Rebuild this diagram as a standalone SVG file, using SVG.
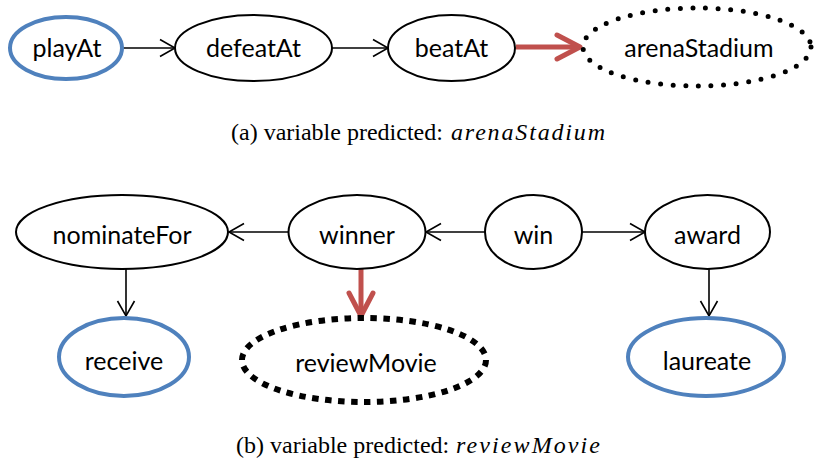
<svg xmlns="http://www.w3.org/2000/svg" width="814" height="466" viewBox="0 0 814 466">
<style>
  .plain { fill: #fff; stroke: #000; stroke-width: 2; }
  .given { fill: #fff; stroke: #4F81BD; stroke-width: 4; }
  .dots { fill: #fff; stroke: #000; stroke-width: 5; stroke-linecap: round; stroke-dasharray: 0 12.6; }
  .dash { fill: #fff; stroke: #000; stroke-width: 6; stroke-dasharray: 6.5 6.5; }
  .lbl { font-family: Lato, "Liberation Sans", sans-serif; font-size: 25px; fill: #000; text-anchor: middle; }
  .cap { font-family: "Liberation Serif", serif; font-size: 24px; fill: #000; }
  .capi { font-family: "Liberation Serif", serif; font-size: 24px; font-style: italic; fill: #000; }
  .edge { fill: none; stroke: #000; stroke-width: 1.6; }
  .pred { fill: none; stroke: #C0504D; stroke-width: 5; }
</style>
<defs>
  <marker id="ah" markerUnits="userSpaceOnUse" viewBox="0 0 18 20" markerWidth="18" markerHeight="20" refX="16" refY="10" orient="auto">
    <path d="M1,1.5 L16,10 L1,18.5" fill="none" stroke="#000" stroke-width="1.6"/>
  </marker>
  <marker id="ahr" markerUnits="userSpaceOnUse" viewBox="0 0 32 32" markerWidth="32" markerHeight="32" refX="27" refY="16" orient="auto">
    <path d="M4,4 L27,16 L4,28" fill="none" stroke="#C0504D" stroke-width="5" stroke-linecap="round" stroke-linejoin="round"/>
  </marker>
</defs>

<g id="connectors">
  <path class="edge" d="M123,48 L175,48" marker-end="url(#ah)"/>
  <path class="edge" d="M332,48 L388,48" marker-end="url(#ah)"/>
  <path class="pred" d="M516,47 L580,47" marker-end="url(#ahr)"/>
  <path class="edge" d="M288,232 L229,232" marker-end="url(#ah)"/>
  <path class="edge" d="M485,232 L426,232" marker-end="url(#ah)"/>
  <path class="edge" d="M582,232 L645,232" marker-end="url(#ah)"/>
  <path class="edge" d="M126,269 L126,316" marker-end="url(#ah)"/>
  <path class="pred" d="M361,269 L361,316" marker-end="url(#ahr)"/>
  <path class="edge" d="M709,269 L709,316" marker-end="url(#ah)"/>
</g>

<g id="playAt">
  <ellipse class="given" cx="66" cy="48" rx="56" ry="31"/>
  <text class="lbl" x="67" y="57">playAt</text>
</g>
<g id="defeatAt">
  <ellipse class="plain" cx="253.5" cy="48" rx="78.5" ry="33"/>
  <text class="lbl" x="253.5" y="57">defeatAt</text>
</g>
<g id="beatAt">
  <ellipse class="plain" cx="451.5" cy="48" rx="63.5" ry="33"/>
  <text class="lbl" x="451.5" y="57">beatAt</text>
</g>
<g id="arenaStadium">
  <ellipse class="dots" cx="697" cy="47" rx="114" ry="39"/>
  <text class="lbl" x="699" y="57">arenaStadium</text>
</g>

<g id="caption-a">
  <text class="cap" x="231" y="140">(a) variable predicted:</text>
  <text class="capi" x="451" y="140" textLength="154" lengthAdjust="spacing">arenaStadium</text>
</g>

<g id="nominateFor">
  <ellipse class="plain" cx="122" cy="232" rx="106" ry="37"/>
  <text class="lbl" x="122" y="244">nominateFor</text>
</g>
<g id="winner">
  <ellipse class="plain" cx="357" cy="232" rx="68.5" ry="37"/>
  <text class="lbl" x="357" y="244">winner</text>
</g>
<g id="win">
  <ellipse class="plain" cx="533.5" cy="232" rx="48.5" ry="37"/>
  <text class="lbl" x="533.5" y="244">win</text>
</g>
<g id="award">
  <ellipse class="plain" cx="707.5" cy="232" rx="62.5" ry="37"/>
  <text class="lbl" x="707.5" y="244">award</text>
</g>
<g id="receive">
  <ellipse class="given" cx="124" cy="357" rx="65" ry="39"/>
  <text class="lbl" x="124" y="370">receive</text>
</g>
<g id="reviewMovie">
  <ellipse class="dash" cx="364" cy="360" rx="122" ry="42"/>
  <text class="lbl" x="366" y="372">reviewMovie</text>
</g>
<g id="laureate">
  <ellipse class="given" cx="706" cy="357" rx="78" ry="39"/>
  <text class="lbl" x="707" y="370">laureate</text>
</g>

<g id="caption-b">
  <text class="cap" x="236" y="453">(b) variable predicted:</text>
  <text class="capi" x="456" y="453" textLength="144" lengthAdjust="spacing">reviewMovie</text>
</g>
</svg>
